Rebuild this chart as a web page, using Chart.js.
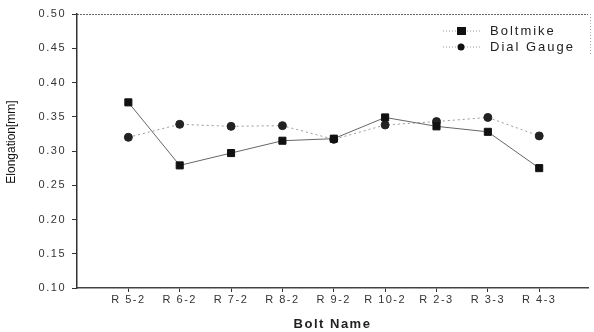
<!DOCTYPE html>
<html>
<head>
<meta charset="utf-8">
<script src="https://cdn.jsdelivr.net/npm/chart.js@4/dist/chart.umd.min.js"></script>
<style>
  html, body { margin: 0; padding: 0; background: #fff; }
  #wrap { width: 594px; height: 332px; }
</style>
</head>
<body>
<div id="wrap"><canvas id="c" width="594" height="332"></canvas></div>
<script>
const boltNames = ["R 5-2", "R 6-2", "R 7-2", "R 8-2", "R 9-2", "R 10-2", "R 2-3", "R 3-3", "R 4-3"];
const boltmike = [0.371, 0.279, 0.297, 0.315, 0.318, 0.349, 0.336, 0.328, 0.275];
const dialGauge = [0.320, 0.339, 0.336, 0.337, 0.317, 0.338, 0.343, 0.349, 0.322];
const yTicks = [0.10, 0.15, 0.20, 0.25, 0.30, 0.35, 0.40, 0.45, 0.50];

const font = "'Liberation Sans', Arial, sans-serif";

// the scanned original uses a wide, loosely spaced font
// (but the y title is tight and sits a bit above the middle)
const spacing = {
  id: "spacing",
  beforeLayout(chart) { chart.ctx.letterSpacing = "1.5px"; },
  afterLayout(chart) {
    const y = chart.scales.y;
    if (y._patched) return;
    y._patched = true;
    y.drawTitle = function () {
      const ctx = this.ctx;
      const prev = ctx.letterSpacing;
      ctx.save();
      ctx.letterSpacing = "0px";
      ctx.translate(4, -9);
      Chart.Scale.prototype.drawTitle.call(this);
      ctx.restore();
      ctx.letterSpacing = prev;
    };
  },
  beforeDraw(chart) { chart.ctx.letterSpacing = "1.5px"; }
};

// legend inside the plot, top right, plus top frame line
const frameLegend = {
  id: "frameLegend",
  afterDraw(chart) {
    const { ctx, chartArea } = chart;
    ctx.save();
    ctx.strokeStyle = "#666";
    ctx.lineWidth = 1;
    ctx.setLineDash([2, 1]);
    ctx.beginPath();
    ctx.moveTo(chartArea.left, chartArea.top + 0.5);
    ctx.lineTo(chartArea.right, chartArea.top + 0.5);
    ctx.stroke();

    const rows = [
      { y: 31, ds: chart.data.datasets[0] },
      { y: 47, ds: chart.data.datasets[1] }
    ];
    rows.forEach(r => {
      ctx.strokeStyle = "#999";
      ctx.setLineDash([1, 2]);
      ctx.beginPath();
      ctx.moveTo(443, r.y);
      ctx.lineTo(481, r.y);
      ctx.stroke();
      ctx.setLineDash([]);
      ctx.fillStyle = "#111";
      if (r.ds.pointStyle === "rect") {
        ctx.fillRect(457, r.y - 4, 9, 8);
      } else {
        ctx.beginPath();
        ctx.arc(461, r.y, 3.5, 0, Math.PI * 2);
        ctx.fill();
      }
      ctx.fillStyle = "#222";
      ctx.font = "13px " + font;
      ctx.letterSpacing = "2px";
      ctx.textBaseline = "middle";
      ctx.fillText(r.ds.label, 490, r.y);
    });
    ctx.strokeStyle = "#aaa";
    ctx.setLineDash([1, 2]);
    ctx.beginPath();
    ctx.moveTo(590.5, chartArea.top);
    ctx.lineTo(590.5, 56);
    ctx.stroke();
    ctx.restore();
  }
};

new Chart(document.getElementById("c"), {
  type: "line",
  data: {
    datasets: [
      {
        label: "Boltmike",
        data: boltmike.map((v, i) => ({ x: i + 1, y: v })),
        borderColor: "#666",
        borderWidth: 1,
        pointStyle: "rect",
        pointRadius: 5,
        pointBackgroundColor: "#111",
        pointBorderColor: "#111",
        tension: 0
      },
      {
        label: "Dial Gauge",
        data: dialGauge.map((v, i) => ({ x: i + 1, y: v })),
        borderColor: "#999",
        borderWidth: 1,
        borderDash: [2, 3],
        pointStyle: "circle",
        pointRadius: 4,
        pointBackgroundColor: "#222",
        pointBorderColor: "#222",
        tension: 0
      }
    ]
  },
  options: {
    responsive: false,
    animation: false,
    layout: { padding: { top: 14, right: 0, left: 0, bottom: 0 } },
    plugins: { legend: { display: false }, tooltip: { enabled: false } },
    scales: {
      x: {
        type: "linear",
        min: 0,
        max: 9.95,
        afterBuildTicks: (axis) => { axis.ticks = boltNames.map((n, i) => ({ value: i + 1 })); },
        afterFit: (axis) => { axis.height = 44; },
        ticks: {
          autoSkip: false,
          maxRotation: 0,
          padding: 1,
          color: "#333",
          font: { family: font, size: 11 },
          callback: (v) => boltNames[v - 1]
        },
        grid: { drawOnChartArea: false, tickLength: 4, color: "#333" },
        border: { color: "#444", width: 1.5, dash: [3, 1] },
        title: {
          display: true,
          text: "Bolt Name",
          color: "#222",
          font: { family: font, size: 13, weight: "bold" },
          padding: { top: 5, bottom: 0 }
        }
      },
      y: {
        min: 0.10,
        max: 0.50,
        afterBuildTicks: (axis) => { axis.ticks = yTicks.map(v => ({ value: v })); },
        afterFit: (axis) => { axis.width = 77; },
        ticks: {
          color: "#333",
          padding: 6,
          font: { family: font, size: 11 },
          callback: (v) => v.toFixed(2)
        },
        grid: { drawOnChartArea: false, tickLength: 5, color: "#333" },
        border: { color: "#333", width: 1.5 },
        title: {
          display: true,
          text: "Elongation[mm]",
          color: "#111",
          font: { family: font, size: 12 },
          padding: { top: 0, bottom: 8 }
        }
      }
    }
  },
  plugins: [spacing, frameLegend]
});
</script>
</body>
</html>
